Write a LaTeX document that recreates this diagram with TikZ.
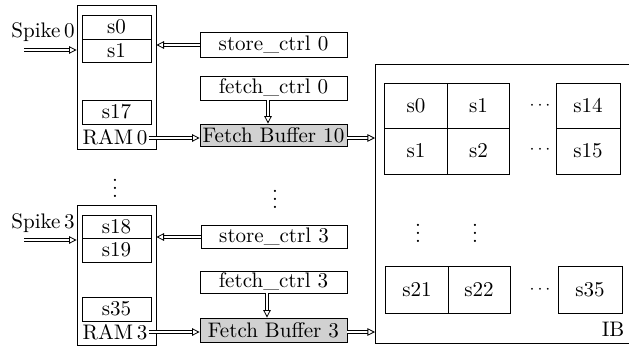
\documentclass[tikz,border=0pt]{standalone}
\usetikzlibrary{arrows.meta}
\def\pxu{0.475pt}
\tikzset{
  box/.style 2 args={draw, inner sep=0pt, minimum width=#1*\pxu, minimum height=#2*\pxu},
  grey/.style={fill=black!18},
  bus/.style={draw, double, double distance=1.1pt, line width=0.4pt,
    -{Triangle[open, length=3.6pt, width=3.6pt, line width=0.4pt]}},
  lbl/.style={inner sep=0pt},
  hdots/.style={font=\footnotesize},
}
\begin{document}
\begin{tikzpicture}[x=0.475pt, y=-0.475pt]
\useasboundingbox (0,0) rectangle (629,347);

% ---------- RAM 0 ----------
\node[box={79}{144}] (ram0) at (116.5,77) {};
\node[box={69}{24}] (c0) at (116.5,27) {s0};
\node[box={69}{23}] (c1) at (116.5,50.5) {s1};
\node[box={69}{24}] (c17) at (116.5,112) {s17};
\node[lbl] (ramlbl0) at (115,137) {RAM\,0};
\node[lbl, anchor=east] (spk0) at (75,32) {Spike\,0};
\coordinate (spkin0) at (24,50);
\draw[bus] (spkin0) -- (ram0.west |- spkin0);

% ---------- controls and buffer 0 ----------
\node[box={147}{25}] (sc0) at (273.5,44.5) {store\_ctrl 0};
\node[box={147}{24}] (fc0) at (273.5,88) {fetch\_ctrl 0};
\node[box={147}{22}, grey] (fb0) at (273.5,135) {Fetch Buffer 10};
\coordinate (st0) at (0,45);
\coordinate (row0) at (0,138);
\draw[bus] (sc0.west |- st0) -- (ram0.east |- st0);
\draw[bus] ([xshift=-5.5*\pxu]fc0.south) -- ([xshift=-5.5*\pxu]fb0.north);
\draw[bus] ([xshift=1*\pxu]ramlbl0.east |- row0) -- (fb0.west |- row0);

% ---------- gaps ----------
\node (vd0) at (115,182) {$\vdots$};
\node (vd1) at (275,193) {$\vdots$};

% ---------- RAM 3 ----------
\node[box={79}{140}] (ram3) at (116.5,275) {};
\node[box={69}{23}] (c18) at (116.5,226.5) {s18};
\node[box={69}{24}] (c19) at (116.5,250) {s19};
\node[box={69}{24}] (c35) at (116.5,309) {s35};
\node[lbl] (ramlbl3) at (115,332) {RAM\,3};
\node[lbl, anchor=east] (spk3) at (75,223) {Spike\,3};
\coordinate (spkin3) at (24,240);
\draw[bus] (spkin3) -- (ram3.west |- spkin3);

% ---------- controls and buffer 3 ----------
\node[box={146}{23}] (sc3) at (274,237) {store\_ctrl 3};
\node[box={147}{22}] (fc3) at (273.5,282) {fetch\_ctrl 3};
\node[box={147}{24}, grey] (fb3) at (273.5,330) {Fetch Buffer 3};
\coordinate (row3) at (0,332);
\draw[bus] (sc3.west) -- (ram3.east |- sc3.west);
\draw[bus] ([xshift=-6.5*\pxu]fc3.south) -- ([xshift=-6.5*\pxu]fb3.north);
\draw[bus] ([xshift=1*\pxu]ramlbl3.east |- row3) -- (fb3.west |- row3);

% ---------- IB ----------
\node[box={260}{279}, anchor=north west] (ib) at (375,64) {};
\node[lbl] (iblbl) at (613,329) {IB};
\draw[bus] (fb0.east |- row0) -- (ib.west |- row0);
\draw[bus] (fb3.east |- row3) -- (ib.west |- row3);

% first two rows
\node[box={63}{45}] (b00) at (416,105.5) {s0};
\node[box={62}{45}] (b01) at (478.5,105.5) {s1};
\node[box={64}{45}] (b0n) at (588,105.5) {s14};
\node[box={63}{46}] (b10) at (416,151) {s1};
\node[box={62}{46}] (b11) at (478.5,151) {s2};
\node[box={64}{46}] (b1n) at (588,151) {s15};
\node[hdots] (h0) at (540,106) {$\cdots$};
\node[hdots] (h1) at (540,150) {$\cdots$};

% gap rows
\node (v0) at (418,227) {$\vdots$};
\node (v1) at (475,227) {$\vdots$};

% last row
\node[box={63}{47}] (b20) at (417,289.5) {s21};
\node[box={62}{47}] (b21) at (479,289.5) {s22};
\node[box={64}{47}] (b2n) at (590,289.5) {s35};
\node[hdots] (h2) at (540,290) {$\cdots$};
\end{tikzpicture}
\end{document}
